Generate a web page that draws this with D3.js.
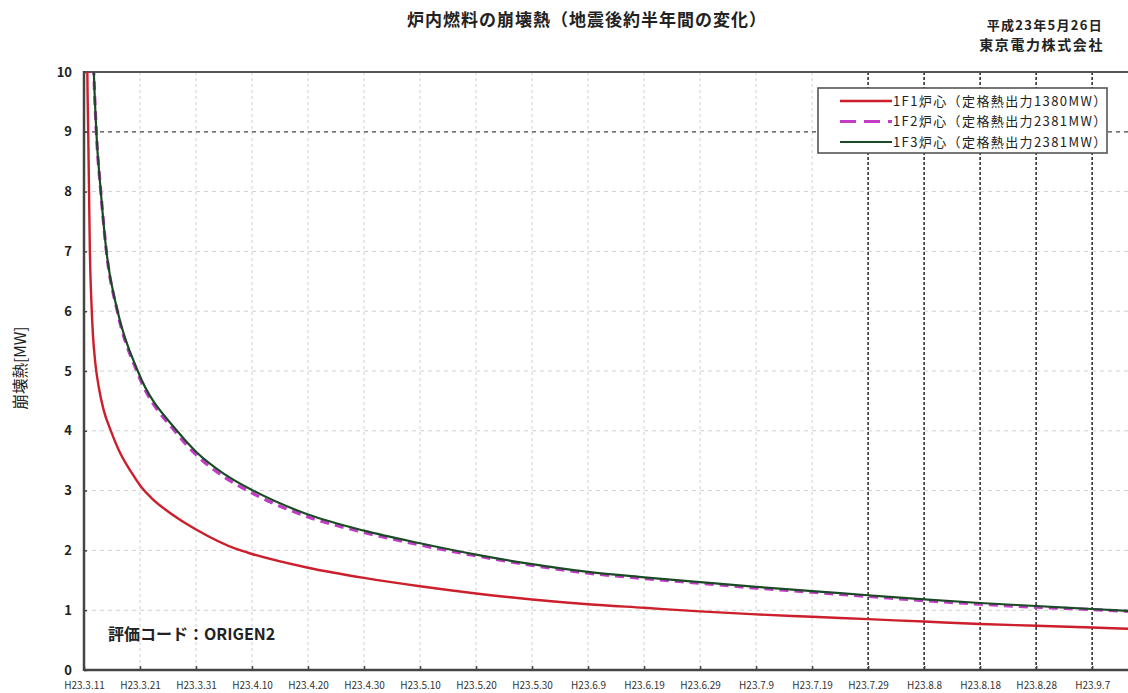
<!DOCTYPE html>
<html>
<head>
<meta charset="utf-8">
<script src="https://cdn.jsdelivr.net/npm/d3@7/dist/d3.min.js"></script>
<style>
  html, body { margin: 0; padding: 0; background: #fff; }
  svg { display: block; }
  text { font-family: "Noto Sans CJK JP", "Noto Sans", sans-serif; }
</style>
</head>
<body>
<svg id="chart" width="1128" height="693"></svg>
<script>
// ---- data (days since H23.3.11, decay heat in MW) ----
const titleText = "炉内燃料の崩壊熱（地震後約半年間の変化）";
const dateText = "平成23年5月26日";
const orgText = "東京電力株式会社";
const yLabel = "崩壊熱[MW]";
const noteText = "評価コード：ORIGEN2";
const seriesNames = ["1F1炉心（定格熱出力1380MW）", "1F2炉心（定格熱出力2381MW）", "1F3炉心（定格熱出力2381MW）"];
const yTicks = [0, 1, 2, 3, 4, 5, 6, 7, 8, 9, 10];
const xTickDays = [0, 10, 20, 30, 40, 50, 60, 70, 80, 90, 100, 110, 120, 130, 140, 150, 160, 170, 180];

const f1Days = [0.5, 0.6, 0.75, 0.9, 1.05, 1.3, 1.6, 2.0, 2.6, 3.5, 4.8, 6.5, 8.5, 10.3, 12, 15, 17, 20, 27.3, 30, 40, 50, 60, 70, 80, 90, 100, 110, 120, 130, 140, 150, 160, 170, 180, 186.4];
const f1Vals = [11.5, 10.0, 9.0, 8.0, 7.0, 6.2, 5.6, 5.15, 4.75, 4.35, 4.0, 3.62, 3.3, 3.05, 2.88, 2.65, 2.52, 2.35, 2.02, 1.94, 1.71, 1.54, 1.40, 1.28, 1.18, 1.10, 1.04, 0.98, 0.93, 0.89, 0.85, 0.81, 0.77, 0.74, 0.71, 0.69];

const f2Days = [1.55, 1.75, 2.2, 3.0, 4.0, 6.0, 9.6, 16.6, 20, 25, 30.2, 40, 50, 60, 70, 80, 90, 100, 110, 120, 130, 140, 150, 160, 170, 180, 186.4];
const f2Vals = [10.6, 10.0, 9.0, 8.0, 7.0, 5.98, 4.96, 3.95, 3.60, 3.23, 2.95, 2.56, 2.30, 2.09, 1.91, 1.75, 1.62, 1.53, 1.45, 1.37, 1.30, 1.23, 1.16, 1.10, 1.05, 1.01, 0.98];

const f3Days = [1.55, 1.75, 2.2, 3.0, 4.0, 6.0, 9.6, 16.6, 20, 25, 30.2, 40, 50, 60, 70, 80, 90, 100, 110, 120, 130, 140, 150, 160, 170, 180, 186.4];
const f3Vals = [10.6, 10.0, 9.0, 8.0, 7.0, 6.0, 5.0, 4.0, 3.65, 3.28, 3.0, 2.60, 2.33, 2.12, 1.93, 1.77, 1.64, 1.55, 1.47, 1.39, 1.32, 1.25, 1.18, 1.12, 1.07, 1.02, 0.99];

// ---- setup ----
const svg = d3.select("#chart");
const base = new Date(2011, 2, 11);
const dayToDate = d => new Date(base.getTime() + d * 86400000);
const pLeft = 84, pRight = 1128, pTop = 72, pBottom = 670;

const x = d3.scaleTime().domain([base, dayToDate(186.4)]).range([pLeft, pRight]);
const y = d3.scaleLinear().domain([0, 10]).range([pBottom, pTop]);

svg.append("defs").append("clipPath").attr("id", "plotclip")
  .append("rect").attr("x", pLeft).attr("y", pTop).attr("width", pRight - pLeft).attr("height", pBottom - pTop);

// grid
const g = svg.append("g");
xTickDays.filter(d => d > 0).forEach(d => {
  const dark = d >= 140;
  g.append("line")
    .attr("x1", x(dayToDate(d))).attr("x2", x(dayToDate(d)))
    .attr("y1", pTop).attr("y2", pBottom)
    .attr("stroke", dark ? "#333" : "#d0d0d0")
    .attr("stroke-width", dark ? 1.6 : 1)
    .attr("stroke-dasharray", dark ? "3,2" : "3,3");
});
yTicks.filter(v => v > 0 && v < 10).forEach(v => {
  const dark = v === 9;
  g.append("line")
    .attr("x1", pLeft).attr("x2", pRight)
    .attr("y1", y(v)).attr("y2", y(v))
    .attr("stroke", dark ? "#444" : "#d0d0d0")
    .attr("stroke-width", dark ? 1.2 : 1)
    .attr("stroke-dasharray", "4,4");
});

// axes
const xAxis = d3.axisBottom(x)
  .tickValues(xTickDays.map(dayToDate))
  .tickSizeInner(-4).tickSizeOuter(0)
  .tickFormat(dt => "H23." + (dt.getMonth() + 1) + "." + dt.getDate());
const xg = svg.append("g").attr("transform", `translate(0,${pBottom})`).call(xAxis);
xg.select(".domain").remove();
xg.selectAll(".tick line").attr("stroke", "#444").attr("stroke-width", 1.5);
xg.selectAll(".tick text")
  .attr("y", 12).attr("dy", "0.71em")
  .attr("font-family", "'Liberation Sans Narrow', 'Liberation Sans', sans-serif")
  .attr("font-size", 10).attr("fill", "#333");

const yAxis = d3.axisLeft(y).tickValues(yTicks).tickSizeInner(-3).tickSizeOuter(0).tickFormat(d3.format("d"));
const yg = svg.append("g").attr("transform", `translate(${pLeft},0)`).call(yAxis);
yg.select(".domain").remove();
yg.selectAll(".tick line").attr("stroke", "#444").attr("stroke-width", 1.5);
yg.selectAll(".tick text")
  .attr("x", -12)
  .attr("font-family", "'Liberation Sans', sans-serif")
  .attr("font-weight", "bold").attr("font-size", 13).attr("fill", "#222");

// frame lines
svg.append("line").attr("x1", pLeft).attr("x2", pRight).attr("y1", pTop).attr("y2", pTop)
  .attr("stroke", "#555").attr("stroke-width", 2);
svg.append("line").attr("x1", pLeft).attr("x2", pRight).attr("y1", pBottom).attr("y2", pBottom)
  .attr("stroke", "#444").attr("stroke-width", 2.5);
svg.append("line").attr("x1", pLeft).attr("x2", pLeft).attr("y1", pTop - 1).attr("y2", pBottom + 1)
  .attr("stroke", "#444").attr("stroke-width", 2.5);

// lines
const line = d3.line().x(d => x(dayToDate(d[0]))).y(d => y(d[1])).curve(d3.curveMonotoneX);
const plot = svg.append("g").attr("clip-path", "url(#plotclip)");
const zip = (a, b) => a.map((d, i) => [d, b[i]]);

plot.append("path").datum(zip(f1Days, f1Vals)).attr("d", line)
  .attr("fill", "none").attr("stroke", "#cc1f2b").attr("stroke-width", 2.4);
plot.append("path").datum(zip(f2Days, f2Vals)).attr("d", line)
  .attr("fill", "none").attr("stroke", "#c23cc6").attr("stroke-width", 3.2).attr("stroke-dasharray", "9,6");
plot.append("path").datum(zip(f3Days, f3Vals)).attr("d", line)
  .attr("fill", "none").attr("stroke", "#1b4a26").attr("stroke-width", 2.2);

// legend
const lg = svg.append("g");
lg.append("rect").attr("x", 818).attr("y", 88).attr("width", 289).attr("height", 65)
  .attr("fill", "#fff").attr("stroke", "#555").attr("stroke-width", 1.6);
const legStyles = [
  { color: "#cc1f2b", width: 2.4, dash: null },
  { color: "#c23cc6", width: 3.2, dash: "16,8" },
  { color: "#1b4a26", width: 2.2, dash: null }
];
seriesNames.forEach((name, i) => {
  const yy = 101 + i * 20.5;
  lg.append("line").attr("x1", 840).attr("x2", 892).attr("y1", yy).attr("y2", yy)
    .attr("stroke", legStyles[i].color).attr("stroke-width", legStyles[i].width)
    .attr("stroke-dasharray", legStyles[i].dash);
  lg.append("text").attr("x", 893).attr("y", yy).attr("dy", "0.36em")
    .attr("font-size", 13).attr("letter-spacing", 1.4).attr("fill", "#222").text(name);
});

// texts
svg.append("text").attr("x", 587).attr("y", 26).attr("text-anchor", "middle")
  .attr("font-size", 17).attr("letter-spacing", 1).attr("font-weight", "bold").attr("fill", "#222").text(titleText);
svg.append("text").attr("x", 1103).attr("y", 30).attr("text-anchor", "end")
  .attr("font-size", 13).attr("letter-spacing", 1.3).attr("font-weight", "bold").attr("fill", "#222").text(dateText);
svg.append("text").attr("x", 1104).attr("y", 50).attr("text-anchor", "end")
  .attr("font-size", 14).attr("letter-spacing", 1.6).attr("font-weight", "bold").attr("fill", "#222").text(orgText);
svg.append("text").attr("transform", "translate(26,368) rotate(-90)").attr("text-anchor", "middle")
  .attr("font-size", 15.5).attr("fill", "#222").text(yLabel);
svg.append("text").attr("x", 108).attr("y", 640)
  .attr("font-size", 16).attr("font-weight", "bold").attr("fill", "#222").text(noteText);
</script>
</body>
</html>
